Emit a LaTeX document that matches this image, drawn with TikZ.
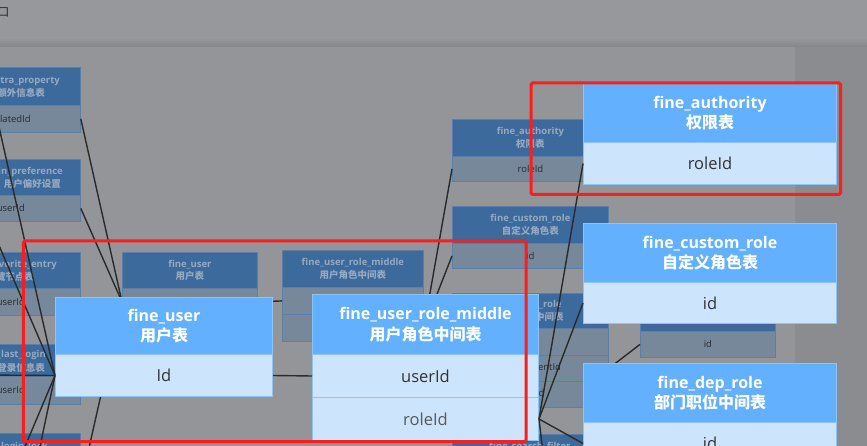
\documentclass[tikz,border=0pt]{standalone}
\usepackage{fontspec}
\setmainfont{Open Sans}
\newfontfamily\cjk{Noto Sans CJK SC}
\definecolor{topbg}{HTML}{96989B}
\definecolor{canvasbg}{HTML}{939598}
\definecolor{sidebg}{HTML}{8A8C8F}
\definecolor{dheadc}{HTML}{3D6A9D}
\definecolor{dbodyc}{HTML}{77889B}
\definecolor{dborderc}{HTML}{5A7FAA}
\definecolor{dtitlec}{HTML}{97A9BE}
\definecolor{dtextc}{HTML}{262B31}
\definecolor{bheadc}{HTML}{63B0FF}
\definecolor{bbodyc}{HTML}{CCE4FC}
\definecolor{bborderc}{HTML}{8CC4F7}
\definecolor{btextc}{HTML}{333333}
\definecolor{hlred}{HTML}{FA1E1E}
\definecolor{wirec}{HTML}{2A2A2A}
\begin{document}
\begin{tikzpicture}[x=1pt,y=-1pt,
  dh/.style={draw=dborderc,line width=0.8pt,fill=dheadc,text=dtitlec,font=\fontsize{9.5}{12.5}\selectfont\bfseries,align=center,anchor=north west,inner sep=0pt},
  db/.style={draw=dborderc,line width=0.8pt,fill=dbodyc,text=dtextc,font=\fontsize{9.5}{12}\selectfont,anchor=north west,inner sep=0pt},
  dtl/.style={anchor=east,inner sep=0pt,text=dtitlec,font=\fontsize{9.5}{12}\selectfont\bfseries},
  bh/.style={draw=bborderc,line width=1pt,fill=bheadc,text=white,font=\fontsize{16}{20.5}\selectfont\bfseries,align=center,anchor=north west,inner sep=0pt},
  bb/.style={draw=bborderc,line width=1pt,fill=bbodyc,text=btextc,font=\fontsize{16.5}{20}\selectfont,anchor=north west,inner sep=0pt},
  wire/.style={draw=wirec,line width=1.4pt},
  hl/.style={draw=hlred,line width=3pt,rounded corners=1.5pt}]
\useasboundingbox (0,0) rectangle (867,446);
\clip (0,0) rectangle (867,446);
% background
\fill[topbg] (0,0) rectangle (867,47);
\shade[top color=topbg,bottom color=black!12!topbg] (0,38) rectangle (867,47);
\fill[canvasbg] (0,47) rectangle (795,446);
\fill[sidebg] (795,47) rectangle (867,446);
\node[font=\fontsize{12}{12}\selectfont\cjk,text=black!85,inner sep=0pt] (tabname) at (3.5,12.5) {口};

% ---------- dimmed tables ----------
% left column
\node[dh,minimum width=139pt,minimum height=38pt] (xph) at (-59,67) {};
\node[dtl] (xpt1) at (60,81) {fine\_extra\_property};
\node[dtl] (xpt2) at (45,93) {\cjk 用户额外信息表};
\node[db,minimum width=139pt,minimum height=27pt] (xpb) at (-59,105) {relatedId};

\node[dh,minimum width=139pt,minimum height=36pt] (pfh) at (-59,159) {};
\node[dtl] (pft1) at (63,172) {fine\_login\_preference};
\node[dtl] (pft2) at (61,184) {\cjk 用户偏好设置};
\node[db,minimum width=139pt,minimum height=26pt] (pfb) at (-59,195) {userId};

\node[dh,minimum width=139pt,minimum height=36pt] (fvh) at (-59,252) {};
\node[dtl] (fvt1) at (57,265) {fine\_favorite\_entry};
\node[dtl] (fvt2) at (34,277) {\cjk 收藏节点表};
\node[db,minimum width=139pt,minimum height=27pt] (fvb) at (-59,288) {userId};

\node[dh,minimum width=139pt,minimum height=32pt] (llh) at (-59,344) {};
\node[dtl] (llt1) at (46,355) {fine\_last\_login};
\node[dtl] (llt2) at (45,368) {\cjk 用户登录信息表};
\node[db,minimum width=139pt,minimum height=28pt] (llb) at (-59,376) {userId};

\node[dh,minimum width=139pt,minimum height=36pt] (lkh) at (-59,433) {};
\node[dtl] (lkt1) at (48,447) {fine\_login\_lock};

% dim fine_user
\node[dh,minimum width=135pt,minimum height=36pt] (duh) at (122,252) {fine\_user\\{\cjk 用户表}};
\node[db,minimum width=135pt,minimum height=27pt] (dub) at (122,288) {Id};
% dim fine_user_role_middle
\node[dh,minimum width=141pt,minimum height=37pt] (dmh) at (282,250) {fine\_user\_role\_middle\\{\cjk 用户角色中间表}};
\node[db,minimum width=141pt,minimum height=27pt] (dmu) at (282,287) {userId};
\node[db,minimum width=141pt,minimum height=27pt] (dmr) at (282,314) {roleId};
% dim fine_authority
\node[dh,minimum width=156pt,minimum height=37pt] (dah) at (452,119) {fine\_authority\\{\cjk 权限表}};
\node[db,minimum width=156pt,minimum height=25pt] (dab) at (452,156) {roleId};
% dim fine_custom_role
\node[dh,minimum width=156pt,minimum height=37pt] (dch) at (452,206) {fine\_custom\_role\\{\cjk 自定义角色表}};
\node[db,minimum width=156pt,minimum height=25pt] (dcb) at (452,243) {id};
% dim fine_dep_role
\node[dh,minimum width=156pt,minimum height=35pt] (ddh) at (452,293) {fine\_dep\_role\\{\cjk 部门职位中间表}};
\node[db,minimum width=156pt,minimum height=27pt] (ddb1) at (452,328) {id};
\node[db,minimum width=156pt,minimum height=26pt] (ddb2) at (452,355) {departmentId};
\node[db,minimum width=156pt,minimum height=26pt] (ddb3) at (452,381) {postId};
% dim bottom middle
\node[dh,minimum width=156pt,minimum height=36pt] (dsh) at (452,434) {};
\node[dtl,anchor=center] (dst1) at (530,447) {fine\_search\_filter};
% dim fine_department
\node[dh,minimum width=135pt,minimum height=38pt] (dph) at (640,293) {fine\_department\\{\cjk 部门表}};
\node[db,minimum width=135pt,minimum height=26pt] (dpb) at (640,331) {id};

% ---------- connectors ----------
\coordinate (cbot) at (84,470);
\coordinate (l1) at (-3,118);
\coordinate (l2) at (-30,178);
\coordinate (l3) at (-20,375);
\coordinate (l4) at (13,475);
\coordinate (l5) at (34,475);
\coordinate (rbot) at (545,470);
\draw[wire] (xpb.east) -- (dub.west);
\draw[wire] (pfb.east) -- (dub.west);
\draw[wire] (cbot) -- (dub.west);
\draw[wire] (dub.east) -- (dmu.west);
\draw[wire] (dmr.east) -- (dab.west);
\draw[wire] (dmr.east) -- (dcb.west);
\draw[wire] (dpb.west) -- (ddb2.east);

% ---------- highlighted tables ----------
\node[bh,minimum width=253pt,minimum height=59pt] (abh) at (583,83) {fine\_authority\\{\cjk 权限表}};
\node[bb,minimum width=253pt,minimum height=42pt] (abb) at (583,142) {roleId};
\node[bh,minimum width=253pt,minimum height=59pt] (bbh) at (583,223) {fine\_custom\_role\\{\cjk 自定义角色表}};
\node[bb,minimum width=253pt,minimum height=41pt] (bbb) at (583,282) {id};
\node[bh,minimum width=253pt,minimum height=59pt] (cbh) at (583,363) {fine\_dep\_role\\{\cjk 部门职位中间表}};
\node[bb,minimum width=253pt,minimum height=42pt] (cbb) at (583,422) {id};
\node[bh,minimum width=217pt,minimum height=57pt] (ubh) at (55,297) {fine\_user\\{\cjk 用户表}};
\node[bb,minimum width=217pt,minimum height=42pt] (ubb) at (55,354) {Id};
\node[bh,minimum width=226pt,minimum height=60pt] (ebh) at (312,294) {fine\_user\_role\_middle\\{\cjk 用户角色中间表}};
\node[bb,minimum width=226pt,minimum height=43pt] (eb1) at (312,354) {userId};
\node[bb,minimum width=226pt,minimum height=43pt,text=black!65] (eb2) at (312,397) {roleId};

\draw[wire] (l1) -- (ubb.west);
\draw[wire] (l2) -- (ubb.west);
\draw[wire] (l3) -- (ubb.west);
\draw[wire] (l4) -- (ubb.west);
\draw[wire] (l5) -- (ubb.west);
\draw[wire] (ubb.east) -- (eb1.west);
\draw[wire] (eb2.east) -- (abb.west);
\draw[wire] (eb2.east) -- (bbb.west);
\draw[wire] (eb2.east) -- (cbb.west);
\draw[wire] (eb2.east) -- (rbot);

% ---------- red highlight frames ----------
\draw[hl] (531,83) rectangle (840.5,194.5);
\draw[hl] (23.3,241) rectangle (526,441.7);
\end{tikzpicture}
\end{document}
